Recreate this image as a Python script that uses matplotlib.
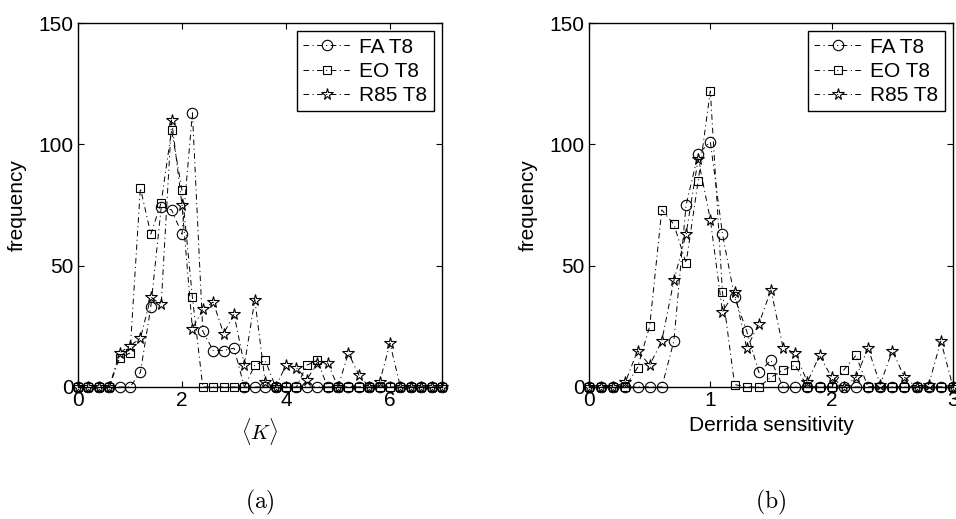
import matplotlib
matplotlib.use("Agg")
import matplotlib.pyplot as plt
import numpy as np

plt.rcParams['font.family'] = ['Liberation Sans', 'DejaVu Sans']
plt.rcParams['mathtext.fontset'] = 'cm'
plt.rcParams['lines.scale_dashes'] = False

# panel (a): <K>, bins 0:0.2:7
k_x = np.round(np.arange(36) * 0.2, 1)
k_fa = [0, 0, 0, 0, 0, 0, 6, 33, 74, 73, 63, 113, 23, 15, 15, 16, 0, 0,
        0, 0, 0, 0, 0, 0, 0, 0, 0, 0, 0, 0, 0, 0, 0, 0, 0, 0]
k_eo = [0, 0, 0, 0, 12, 14, 82, 63, 76, 106, 81, 37, 0, 0, 0, 0, 0, 9,
        11, 0, 0, 0, 9, 11, 0, 0, 0, 0, 0, 0, 0, 0, 0, 0, 0, 0]
k_r85 = [0, 0, 0, 0, 14, 17, 20, 37, 34, 110, 75, 24, 32, 35, 22, 30, 9, 36,
         2, 0, 9, 8, 3, 10, 10, 0, 14, 5, 0, 2, 18, 0, 0, 0, 0, 0]

# panel (b): Derrida sensitivity, bins 0:0.1:3
d_x = np.round(np.arange(31) * 0.1, 1)
d_fa = [0, 0, 0, 0, 0, 0, 0, 19, 75, 96, 101, 63, 37, 23, 6, 11,
        0, 0, 0, 0, 0, 0, 0, 0, 0, 0, 0, 0, 0, 0, 0]
d_eo = [0, 0, 0, 0, 8, 25, 73, 67, 51, 85, 122, 39, 1, 0, 0, 4,
        7, 9, 0, 0, 0, 7, 13, 0, 0, 0, 0, 0, 0, 0, 0]
d_r85 = [0, 0, 0, 2, 15, 9, 19, 44, 63, 94, 69, 31, 39, 16, 26, 40,
         16, 14, 2, 13, 4, 0, 4, 16, 1, 15, 4, 0, 1, 19, 0]

labels = ['FA T8', 'EO T8', 'R85 T8']
markers = ['o', 's', '*']
msizes = [7.5, 6, 8.5]
dash = (4, 2.5, 0.8, 2.5)

fig = plt.figure(figsize=(9.56, 5.19), dpi=100)
ax1 = fig.add_axes([78/956, 1 - 387/519, 364/956, 364/519])
ax2 = fig.add_axes([589/956, 1 - 387/519, 364/956, 364/519])

panels = [(ax1, k_x, [k_fa, k_eo, k_r85], 7, [0, 2, 4, 6], r'$\langle K\rangle$'),
          (ax2, d_x, [d_fa, d_eo, d_r85], 3, [0, 1, 2, 3], 'Derrida sensitivity')]

for ax, x, series, xmax, xt, xlab in panels:
    for ys, m, ms, lab in zip(series, markers, msizes, labels):
        ax.plot(x, ys, color='black', lw=0.7, dashes=dash, marker=m, ms=ms,
                mfc='none', mec='black', mew=0.8, label=lab, clip_on=False)
    ax.set_xlim(0, xmax)
    ax.set_ylim(0, 150)
    ax.set_xticks(xt)
    ax.set_yticks([0, 50, 100, 150])
    ax.tick_params(direction='in', top=True, right=True, length=4,
                   labelsize=15, pad=3)
    for s in ax.spines.values():
        s.set_linewidth(1.0)
    ax.set_ylabel('frequency', fontsize=15)
    ax.yaxis.set_label_coords(-0.14, 0.5)
    ax.set_xlabel(xlab, fontsize=15)
    ax.xaxis.set_label_coords(0.5, -0.08)
    leg = ax.legend(loc='upper right', fontsize=15, frameon=True, fancybox=False,
                    edgecolor='black', framealpha=1, handlelength=2.3,
                    labelspacing=0.25, borderpad=0.3, handletextpad=0.4,
                    borderaxespad=0.4)
    leg.get_frame().set_linewidth(1.0)

fig.text(260/956, 1 - 502/519, r'$\mathrm{(a)}$', fontsize=17, ha='center', va='center')
fig.text(771/956, 1 - 502/519, r'$\mathrm{(b)}$', fontsize=17, ha='center', va='center')

fig.savefig('out.png', dpi=100)
